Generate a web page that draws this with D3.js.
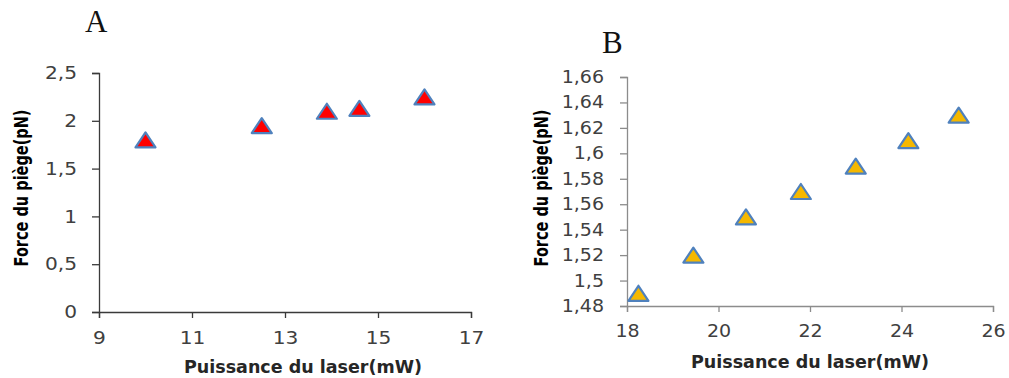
<!DOCTYPE html>
<html>
<head>
<meta charset="utf-8">
<script src="https://cdn.jsdelivr.net/npm/d3@7"></script>
<style>
  body { margin: 0; background: #fff; }
  .tick text { font-family: "DejaVu Sans", sans-serif; fill: #404040; }
</style>
</head>
<body>
<svg width="1009" height="378"></svg>
<script>
// panel A
const powerA = [10, 12.5, 13.9, 14.6, 16];
const forceA = [1.8, 1.95, 2.1, 2.13, 2.25];
const xTicksA = [9, 11, 13, 15, 17];
const yTicksA = [0, 0.5, 1, 1.5, 2, 2.5];

// panel B
const powerB = [18.25, 19.45, 20.6, 21.8, 23.0, 24.15, 25.25];
const forceB = [1.49, 1.52, 1.55, 1.57, 1.59, 1.61, 1.63];
const xTicksB = [18, 20, 22, 24, 26];
const yTicksB = [1.48, 1.5, 1.52, 1.54, 1.56, 1.58, 1.6, 1.62, 1.64, 1.66];

const svg = d3.select("svg");
const fmt = d => String(+d.toFixed(2)).replace(".", ",");
const stretch = 1.12;

// wide excel-like triangle marker
const wideTri = {
  draw(ctx, size) {
    const w = 10, h = 7.5;
    ctx.moveTo(0, -h);
    ctx.lineTo(w, h);
    ctx.lineTo(-w, h);
    ctx.closePath();
  }
};

function panel(o) {
  const x = d3.scaleLinear().domain(o.xDomain).range([o.left, o.right]);
  const y = d3.scaleLinear().domain(o.yDomain).range([o.bottom, o.top]);
  const g = svg.append("g");

  const ax = g.append("g")
    .attr("transform", `translate(0,${o.bottom})`)
    .call(d3.axisBottom(x).tickValues(o.xTicks).tickSize(6).tickPadding(o.xPad).tickFormat(fmt));
  const ay = g.append("g")
    .attr("transform", `translate(${o.left},0)`)
    .call(d3.axisLeft(y).tickValues(o.yTicks).tickSize(7).tickPadding(8).tickFormat(fmt));
  [ax, ay].forEach(a => {
    a.select(".domain").attr("stroke", o.axisColor).attr("stroke-width", 1.3);
    a.selectAll(".tick line").attr("stroke", o.axisColor).attr("stroke-width", 1.3);
    a.selectAll(".tick text").attr("font-size", o.tickFont);
  });
  ax.selectAll(".tick text").attr("transform", `scale(${stretch},1)`)
    .attr("x", 0);
  ay.selectAll(".tick text").attr("transform", `scale(${stretch},1)`)
    .attr("x", -o.yGap / stretch);

  g.selectAll("path.pt").data(o.xs).enter().append("path")
    .attr("class", "pt")
    .attr("d", d3.symbol().type(wideTri))
    .attr("transform", (d, i) => `translate(${x(d)},${y(o.ys[i])})`)
    .attr("fill", o.fill)
    .attr("stroke", "#4f81bd")
    .attr("stroke-width", 2.2)
    .attr("stroke-linejoin", "round");

  g.append("text")
    .attr("x", o.xTitle[0]).attr("y", o.xTitle[1])
    .attr("text-anchor", "middle")
    .attr("font-family", "DejaVu Sans, sans-serif")
    .attr("font-weight", "bold").attr("font-size", 17.5)
    .attr("fill", "#262626")
    .text("Puissance du laser(mW)");

  // y title: tall but condensed, like the original
  const yt = g.append("text")
    .attr("text-anchor", "middle")
    .attr("font-family", "DejaVu Sans, sans-serif")
    .attr("font-weight", "bold").attr("font-size", 19.5)
    .attr("fill", "#000")
    .text("Force du piège(pN)");
  const len = yt.node().getComputedTextLength();
  yt.attr("transform", `translate(${o.yTitle[0]},${o.yTitle[1]}) rotate(-90) scale(${157 / len},1)`);

  g.append("text")
    .attr("x", o.label[0]).attr("y", o.label[1])
    .attr("font-family", "Liberation Serif, serif")
    .attr("font-size", 31)
    .attr("fill", "#111")
    .text(o.labelText);
}

panel({
  xs: powerA, ys: forceA, xTicks: xTicksA, yTicks: yTicksA,
  xDomain: [9, 17], yDomain: [0, 2.5],
  left: 99, right: 471, top: 73, bottom: 312,
  fill: "#ff0000", axisColor: "#3a3a3a", tickFont: 18,
  xPad: 13, yGap: 22,
  xTitle: [303, 373], yTitle: [27.5, 188],
  label: [85, 32], labelText: "A"
});

panel({
  xs: powerB, ys: forceB, xTicks: xTicksB, yTicks: yTicksB,
  xDomain: [18, 26], yDomain: [1.48, 1.66],
  left: 627, right: 993, top: 77, bottom: 306,
  fill: "#f5b800", axisColor: "#8c8c8c", tickFont: 17,
  xPad: 13, yGap: 23,
  xTitle: [810, 368], yTitle: [548, 188],
  label: [602, 53], labelText: "B"
});
</script>
</body>
</html>
